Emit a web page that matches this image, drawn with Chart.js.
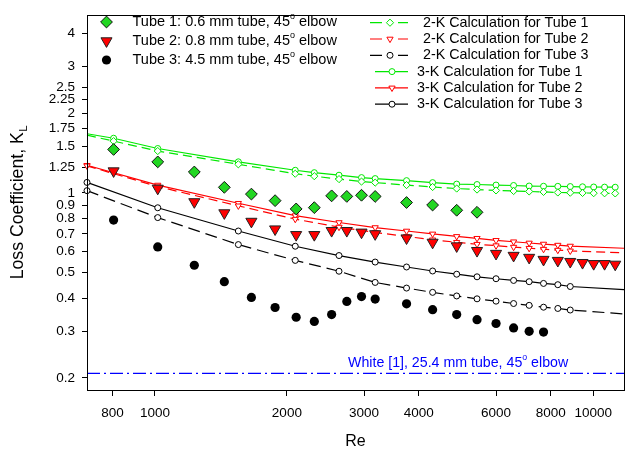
<!DOCTYPE html>
<html>
<head>
<meta charset="utf-8">
<title>Loss coefficient of 45 degree elbows</title>
<script src="https://cdn.jsdelivr.net/npm/chart.js@4.4.1/dist/chart.umd.min.js"></script>
<style>
  html, body { margin: 0; padding: 0; background: #fff; }
  #wrap { width: 635px; height: 455px; }
</style>
</head>
<body>
<div id="wrap"><canvas id="lossChart" width="635" height="455"></canvas></div>
<script>
// measured points
const reMeasured = [805, 1015, 1230, 1440, 1660, 1880, 2100, 2310, 2530, 2740, 2960, 3180, 3750,
  4300, 4880, 5430, 6000, 6580, 7140, 7700, 8300, 8860, 9450, 10020, 10610, 11220];
const tube1K = [1.46, 1.31, 1.20, 1.05, 0.99, 0.935, 0.87, 0.88, 0.975, 0.97, 0.98, 0.97, 0.92,
  0.90, 0.86, 0.845];
const tube2K = [1.21, 1.04, 0.925, 0.84, 0.78, 0.73, 0.695, 0.695, 0.72, 0.72, 0.71, 0.70, 0.675,
  0.65, 0.63, 0.605, 0.59, 0.58, 0.57, 0.56, 0.555, 0.55, 0.545, 0.54, 0.54, 0.537];
const tube3K = [0.79, 0.625, 0.533, 0.462, 0.403, 0.369, 0.339, 0.327, 0.347, 0.389, 0.406, 0.397, 0.381,
  0.362, 0.347, 0.332, 0.321, 0.309, 0.30, 0.298];

// calculated curves (first tube 1 point and last tube 2/3 points carry no marker)
const reCalcTube1 = [700, 805, 1015, 1550, 2090, 2310, 2630, 2960, 3180, 3750, 4300, 4880, 5430,
  6000, 6580, 7140, 7700, 8300, 8860, 9450, 10020, 10610, 11220];
const twoKTube1 = [1.653, 1.57, 1.44, 1.283, 1.182, 1.157, 1.128, 1.104, 1.094, 1.071, 1.053, 1.039, 1.030,
  1.022, 1.017, 1.013, 1.009, 1.004, 1.002, 1.000, 0.998, 0.997, 0.996];
const threeKTube1 = [1.674, 1.61, 1.472, 1.311, 1.218, 1.193, 1.167, 1.143, 1.133, 1.113, 1.094, 1.080, 1.076,
  1.071, 1.067, 1.062, 1.060, 1.059, 1.057, 1.055, 1.053, 1.052, 1.051];

const reCalc = [700, 1015, 1550, 2090, 2630, 3180, 3750, 4300, 4880, 5430, 6000, 6580, 7140, 7700,
  8300, 8860, 11750];
const twoKTube2 = [1.266, 1.057, 0.894, 0.796, 0.743, 0.709, 0.685, 0.665, 0.651, 0.640, 0.632, 0.624,
  0.618, 0.613, 0.608, 0.604, 0.594];
const threeKTube2 = [1.272, 1.071, 0.914, 0.821, 0.773, 0.740, 0.718, 0.700, 0.685, 0.674, 0.662, 0.654,
  0.647, 0.641, 0.635, 0.630, 0.618];
const twoKTube3 = [1.020, 0.807, 0.638, 0.556, 0.506, 0.459, 0.437, 0.421, 0.408, 0.398, 0.390, 0.382,
  0.376, 0.370, 0.366, 0.361, 0.349];
const threeKTube3 = [1.096, 0.879, 0.718, 0.629, 0.580, 0.548, 0.525, 0.507, 0.493, 0.482, 0.474, 0.467,
  0.462, 0.455, 0.450, 0.443, 0.431];

// White [1] reference value
const whiteK = 0.208;

const reRange = [700, 11750];
const kRange = [0.18, 4.7];
const reTicks = [800, 1000, 2000, 3000, 4000, 6000, 8000, 10000];
const kTicks = [0.2, 0.3, 0.4, 0.5, 0.6, 0.7, 0.8, 0.9, 1, 1.25, 1.5, 1.75, 2, 2.25, 2.5, 3, 4];

const FONT = "'Liberation Sans', Arial, sans-serif";
const GREEN = '#00e800';
const GREEN_FILL = '#22d622';
const RED = '#ff0000';
const BLUE = '#0000ff';

function pairs(xs, ys) {
  return ys.map((y, i) => ({ x: xs[i], y: y }));
}

function skipFirst(r) { return (c) => (c.dataIndex === 0 ? 0 : r); }
function skipLast(r) { return (c) => (c.dataIndex === c.dataset.data.length - 1 ? 0 : r); }

function calcSet(label, xs, ys, color, dash, style, radius, rotation, radiusFn) {
  return {
    label: label,
    data: pairs(xs, ys),
    borderColor: color,
    borderWidth: 1.2,
    borderDash: dash,
    pointStyle: style,
    pointRotation: rotation,
    pointRadius: radiusFn(radius),
    pointBackgroundColor: '#fff',
    pointBorderColor: color,
    pointBorderWidth: 1,
    clip: false
  };
}

const datasets = [
  {
    label: 'Tube 1: 0.6 mm tube, 45° elbow',
    data: pairs(reMeasured, tube1K),
    showLine: false,
    pointStyle: 'rectRot',
    pointRadius: 5.9,
    pointBackgroundColor: GREEN_FILL,
    pointBorderColor: '#111',
    pointBorderWidth: 1
  },
  {
    label: 'Tube 2: 0.8 mm tube, 45° elbow',
    data: pairs(reMeasured, tube2K),
    showLine: false,
    pointStyle: 'triangle',
    pointRotation: 180,
    pointRadius: 6.4,
    pointBackgroundColor: RED,
    pointBorderColor: '#222',
    pointBorderWidth: 1
  },
  {
    label: 'Tube 3: 4.5 mm tube, 45° elbow',
    data: pairs(reMeasured, tube3K),
    showLine: false,
    pointStyle: 'circle',
    pointRadius: 4.6,
    pointBackgroundColor: '#000',
    pointBorderColor: '#000',
    pointBorderWidth: 0
  },
  calcSet('2-K Calculation for Tube 1', reCalcTube1, twoKTube1, GREEN, [9, 5], 'rectRot', 3.6, 0, skipFirst),
  calcSet('2-K Calculation for Tube 2', reCalc, twoKTube2, RED, [9, 5], 'triangle', 3.6, 180, skipLast),
  calcSet('2-K Calculation for Tube 3', reCalc, twoKTube3, '#000', [12, 6], 'circle', 3, 0, skipLast),
  calcSet('3-K Calculation for Tube 1', reCalcTube1, threeKTube1, GREEN, [], 'circle', 3, 0, skipFirst),
  calcSet('3-K Calculation for Tube 2', reCalc, threeKTube2, RED, [], 'triangle', 3.6, 180, skipLast),
  calcSet('3-K Calculation for Tube 3', reCalc, threeKTube3, '#000', [], 'circle', 3, 0, skipLast),
  {
    label: 'White [1], 25.4 mm tube, 45° elbow',
    data: pairs(reRange, [whiteK, whiteK]),
    borderColor: BLUE,
    borderWidth: 1.2,
    borderDash: [13, 4, 2, 4],
    pointRadius: 0
  }
];

// draws "text + superscript o + text" pieces left to right
function drawParts(ctx, x, y, parts, size) {
  let cx = x;
  parts.forEach(([txt, sup]) => {
    const s = sup ? size * 0.62 : size;
    ctx.font = s + 'px ' + FONT;
    ctx.fillText(txt, cx, sup ? y - size * 0.38 : y);
    cx += ctx.measureText(txt).width;
  });
}

function marker(ctx, style, x, y, radius, rotation, fill, stroke, bw) {
  ctx.save();
  ctx.fillStyle = fill;
  ctx.strokeStyle = stroke;
  ctx.lineWidth = bw;
  Chart.helpers.drawPoint(ctx, { pointStyle: style, radius: radius, rotation: rotation, borderWidth: bw }, x, y);
  ctx.restore();
}

const decorPlugin = {
  id: 'decor',
  afterDraw(chart) {
    const ctx = chart.ctx;
    const a = chart.chartArea;
    const al = (v) => Math.round(v - 0.5) + 0.5;

    // frame
    ctx.save();
    ctx.strokeStyle = '#000';
    ctx.lineWidth = 1;
    ctx.strokeRect(al(a.left), al(a.top), al(a.right) - al(a.left), al(a.bottom) - al(a.top));
    ctx.restore();

    ctx.save();
    ctx.fillStyle = '#000';
    ctx.textBaseline = 'middle';
    ctx.textAlign = 'left';

    // measured-data legend
    const leftRows = [
      ['Tube 1: 0.6 mm tube, 45', 'rectRot', 5.9, 0, GREEN_FILL, '#111', 1],
      ['Tube 2: 0.8 mm tube, 45', 'triangle', 6.4, 180, RED, '#222', 1],
      ['Tube 3: 4.5 mm tube, 45', 'circle', 4.6, 0, '#000', '#000', 0]
    ];
    leftRows.forEach((r, i) => {
      const y = 22 + i * 19;
      marker(ctx, r[1], 106.5, y, r[2], r[3], r[4], r[5], r[6]);
      ctx.fillStyle = '#000';
      drawParts(ctx, 132.5, y, [[r[0], false], ['o', true], [' elbow', false]], 14.5);
    });

    // calculation legend
    const rightRows = [
      ['2-K Calculation for Tube 1', GREEN, true, 'rectRot', 3.6, 0],
      ['2-K Calculation for Tube 2', RED, true, 'triangle', 3.6, 180],
      ['2-K Calculation for Tube 3', '#000', true, 'circle', 3, 0],
      ['3-K Calculation for Tube 1', GREEN, false, 'circle', 3, 0],
      ['3-K Calculation for Tube 2', RED, false, 'triangle', 3.6, 180],
      ['3-K Calculation for Tube 3', '#000', false, 'circle', 3, 0]
    ];
    rightRows.forEach((r, i) => {
      const y = 22.7 + i * 16.3;
      ctx.strokeStyle = r[1];
      ctx.lineWidth = 1.2;
      ctx.beginPath();
      let mx, tx;
      if (r[2]) {
        ctx.moveTo(370, y); ctx.lineTo(382, y);
        ctx.moveTo(398, y); ctx.lineTo(408, y);
        mx = 390; tx = 423;
      } else {
        ctx.moveTo(375, y); ctx.lineTo(408, y);
        mx = 392; tx = 417;
      }
      ctx.stroke();
      marker(ctx, r[3], mx, y, r[4], r[5], '#fff', r[1], 1);
      ctx.fillStyle = '#000';
      ctx.font = '14.3px ' + FONT;
      ctx.fillText(r[0], tx, y);
    });

    // White [1] label above its line
    ctx.fillStyle = BLUE;
    const wy = chart.scales.y.getPixelForValue(whiteK) - 10.5;
    drawParts(ctx, 348, wy, [['White [1], 25.4 mm tube, 45', false], ['o', true], [' elbow', false]], 14.2);

    // y axis title with subscript
    ctx.fillStyle = '#000';
    ctx.textBaseline = 'alphabetic';
    ctx.translate(23, (a.top + a.bottom) / 2);
    ctx.rotate(-Math.PI / 2);
    const main = 'Loss Coefficient, K';
    ctx.font = '17.7px ' + FONT;
    const wMain = ctx.measureText(main).width;
    ctx.font = '11.5px ' + FONT;
    const wSub = ctx.measureText('L').width;
    const x0 = -(wMain + wSub) / 2;
    ctx.font = '17.7px ' + FONT;
    ctx.fillText(main, x0, 0);
    ctx.font = '11.5px ' + FONT;
    ctx.fillText('L', x0 + wMain + 0.5, 4);
    ctx.restore();
  }
};

const tickFont = { family: FONT, size: 13.5 };

new Chart(document.getElementById('lossChart'), {
  type: 'line',
  data: { datasets: datasets },
  options: {
    responsive: false,
    animation: false,
    devicePixelRatio: 1,
    layout: { padding: { top: 10, right: 11, left: 0, bottom: 0 } },
    plugins: {
      legend: { display: false },
      tooltip: { enabled: false }
    },
    scales: {
      x: {
        type: 'logarithmic',
        min: reRange[0],
        max: reRange[1],
        bounds: 'data',
        afterBuildTicks(scale) { scale.ticks = reTicks.map(v => ({ value: v })); },
        afterFit(scale) { scale.height = 65; },
        ticks: {
          autoSkip: false,
          maxRotation: 0,
          padding: 9,
          color: '#000',
          font: tickFont,
          callback: (v) => String(v)
        },
        grid: { display: true, drawOnChartArea: false, drawTicks: true, tickLength: 6, color: '#000', lineWidth: 1 },
        border: { display: true, color: '#000', width: 1 },
        title: { display: true, text: 'Re', color: '#000', font: { family: FONT, size: 16 }, padding: { top: 0, bottom: 4 } }
      },
      y: {
        type: 'logarithmic',
        min: kRange[0],
        max: kRange[1],
        bounds: 'data',
        afterBuildTicks(scale) { scale.ticks = kTicks.map(v => ({ value: v })); },
        afterFit(scale) { scale.width = 87; },
        ticks: {
          autoSkip: false,
          padding: 7,
          color: '#000',
          font: tickFont,
          callback: (v) => String(v)
        },
        grid: { display: true, drawOnChartArea: false, drawTicks: true, tickLength: 5, color: '#000', lineWidth: 1 },
        border: { display: true, color: '#000', width: 1 }
      }
    }
  },
  plugins: [decorPlugin]
});
</script>
</body>
</html>
